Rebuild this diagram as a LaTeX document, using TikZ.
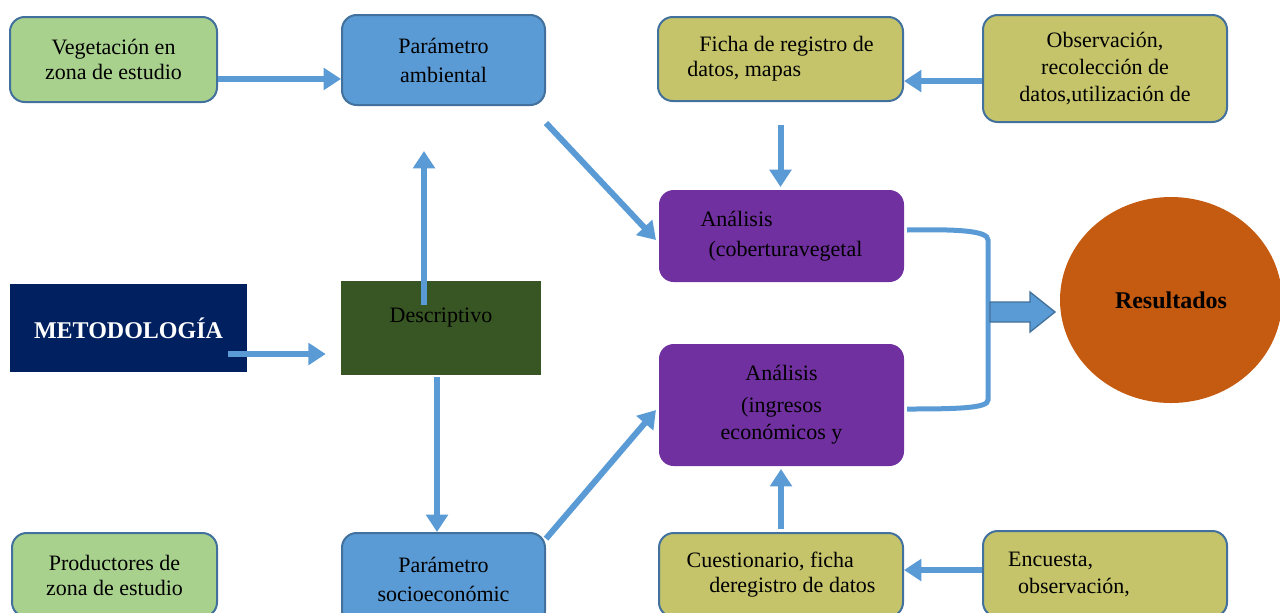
\documentclass[tikz,border=0pt]{standalone}
\usepackage{fontspec}
\setmainfont{Liberation Serif}
\usepackage{tikz}
\usetikzlibrary{shapes.geometric, arrows.meta, positioning}
\definecolor{verde}{HTML}{A9D18E}
\definecolor{azulcaja}{HTML}{5B9BD5}
\definecolor{borde}{HTML}{41719C}
\definecolor{oliva}{HTML}{C5C46B}
\definecolor{marino}{HTML}{002060}
\definecolor{verdeosc}{HTML}{375623}
\definecolor{morado}{HTML}{7030A0}
\definecolor{naranja}{HTML}{C55A11}
\tikzset{
    caja/.style = {rounded corners = 11pt, draw = borde, line width = 1.5pt, inner sep = 0pt, align = center, font = \fontsize{16.5}{18.75}\selectfont},
    plana/.style = {inner sep = 0pt, align = center, font = \fontsize{16.5}{18.75}\selectfont},
    negrita/.style = {font = \fontsize{18}{20}\selectfont\bfseries},
    flecha/.style = {draw = azulcaja, line width = 4.5pt, -{Triangle[length = 13pt, width = 16pt]}},
}

\begin{document}
\begin{tikzpicture}[x = 0.75pt, y = -0.75pt]
    \clip (0,0) rectangle (1280,612);
    % Fila superior
    \node[caja, fill = verde, minimum width = 155.25pt, minimum height = 63.75pt] (veg) at (113.5,59.5) {Vegetación en\\zona de estudio};
    \node[caja, fill = azulcaja, minimum width = 152.25pt, minimum height = 67.5pt] (amb) at (443.5,60) {Parámetro\\[3pt]ambiental};
    \node[caja, fill = oliva, minimum width = 183.75pt, minimum height = 63pt, align = left] (ficha) at (780.5,59) {\hspace*{9pt}Ficha de registro de\\datos, mapas};
    \node[caja, fill = oliva, minimum width = 183pt, minimum height = 80.25pt] (obs) at (1105,68.5) {Observación,\\[1.5pt]recolección de\\[1.5pt]datos,utilización de};
    % Fila central
    \node[plana, negrita, fill = marino, text = white, minimum width = 177.75pt, minimum height = 66pt] (met) at (128.5,328) {METODOLOGÍA};
    \node[plana, fill = verdeosc, minimum width = 150pt, minimum height = 70.5pt] (desc) at (441,328) {Descriptivo\\\mbox{}};
    \node[caja, draw = none, fill = morado, minimum width = 183.75pt, minimum height = 69pt, align = left] (an1) at (781.5,236) {Análisis\\[4pt]\hspace*{6pt}(coberturavegetal};
    \node[caja, draw = none, fill = morado, minimum width = 183.75pt, minimum height = 91.5pt] (an2) at (781.5,405) {Análisis\\[5pt](ingresos\\[2pt]económicos y};
    \node[plana, ellipse, negrita, fill = naranja, minimum width = 166.5pt, minimum height = 154.5pt] (res) at (1171,300) {Resultados};
    % Fila inferior
    \node[caja, fill = verde, minimum width = 153.75pt, minimum height = 63pt] (prod) at (114.5,575) {Productores de\\zona de estudio};
    \node[caja, fill = azulcaja, minimum width = 152.25pt, minimum height = 69pt] (soc) at (443.5,579) {Parámetro\\[3pt]socioeconómic};
    \node[caja, fill = oliva, minimum width = 183pt, minimum height = 63pt, align = left] (cues) at (781,575) {Cuestionario, ficha\\\hspace*{17pt}deregistro de datos};
    \node[caja, fill = oliva, minimum width = 183pt, minimum height = 64.5pt, align = left] (enc) at (1105,574) {Encuesta,\\[1.5pt]\hspace*{7.5pt}observación,\hspace*{54pt}};
    % Flechas
    \draw[flecha] ([yshift = -14.6pt]veg.east) -- ([yshift = -14.6pt]veg.east -| amb.west);
    \draw[flecha, shorten <= -14.25pt, shorten >= 11.25pt] ([yshift = -19.5pt]met.east) -- ([yshift = -19.5pt]met.east -| desc.west);
    \draw[flecha, shorten <= -18pt, shorten >= 33.75pt] ([xshift = -12.75pt]desc.north) -- ([xshift = -12.75pt]desc.north |- amb.south);
    \draw[flecha, shorten <= 1.5pt] ([xshift = -3pt]desc.south) -- ([xshift = -3pt]desc.south |- soc.north);
    \draw[flecha] ([yshift = -12.75pt]amb.south east) -- ([shift = {(-1.5pt,-3pt)}]an1.west);
    \draw[flecha] ([yshift = -5pt]soc.north east) -- ([shift = {(-1.5pt,-3.75pt)}]an2.west);
    \draw[flecha] ([yshift = -9.4pt]obs.west) -- ([yshift = -9.4pt]obs.west -| ficha.east);
    \draw[flecha, shorten <= 17.25pt, shorten >= 1.5pt] (ficha.south) -- (ficha.south |- an1.north);
    \draw[flecha, shorten <= 2.25pt, shorten >= 1.5pt] (cues.north) -- (cues.north |- an2.south);
    \draw[flecha] ([yshift = 3pt]enc.west) -- ([yshift = 3pt]enc.west -| cues.east);
    % Llave hacia resultados
    \draw[azulcaja, line width = 3.75pt] ([shift = {(1.5pt,4.5pt)}]an1.east) .. controls (960,229) and (988,231) .. (988,240) -- (988,400) .. controls (988,408) and (960,409) .. ([shift = {(1.5pt,-3pt)}]an2.east);
    \draw[fill = azulcaja, draw = borde, line width = 1pt] (990,302) -- (1030,302) -- (1030,292) -- (1055,312) -- (1030,332) -- (1030,322) -- (990,322) -- cycle;
\end{tikzpicture}
\end{document}
